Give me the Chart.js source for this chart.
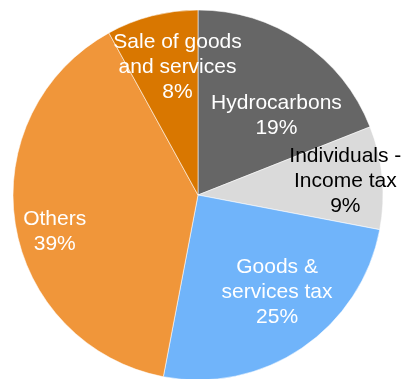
<!DOCTYPE html>
<html>
<head>
<meta charset="utf-8">
<script src="https://cdn.jsdelivr.net/npm/chart.js@4"></script>
<style>
  html, body { margin: 0; padding: 0; background: #ffffff; }
  #wrap { width: 405px; height: 379px; }
</style>
</head>
<body>
<div id="wrap"><canvas id="c" width="405" height="379"></canvas></div>
<script>
// Revenue categories, clockwise from 12 o'clock
const categories = [
  'Hydrocarbons',
  'Individuals - Income tax',
  'Goods & services tax',
  'Others',
  'Sale of goods and services'
];
// Share of total revenue, percent
const shares = [19, 9, 25, 39, 8];
// Label text split into lines (the percentage is appended from shares)
const labelLines = [
  ['Hydrocarbons'],
  ['Individuals -', 'Income tax'],
  ['Goods &', 'services tax'],
  ['Others'],
  ['Sale of goods', 'and services']
];

const sliceColors = ['#666666', '#dadada', '#70b4fa', '#f0963a', '#d97700'];
const labelColors = ['#ffffff', '#000000', '#ffffff', '#ffffff', '#ffffff'];
// Label anchor: angular nudge from the slice midpoint (degrees) and distance as a fraction of the radius
const labelAngleNudge = [10.4, -0.1, -5.0, -5.5, 5.3];
const labelRadiusFrac = [0.604, 0.80, 0.676, 0.80, 0.70];

const sliceLabels = {
  id: 'sliceLabels',
  afterDatasetsDraw(chart) {
    const ctx = chart.ctx;
    const meta = chart.getDatasetMeta(0);
    const values = chart.data.datasets[0].data;
    ctx.save();
    ctx.font = '21px "Liberation Sans", Arial, sans-serif';
    ctx.textAlign = 'center';
    ctx.textBaseline = 'middle';
    const lineH = 25;
    meta.data.forEach((arc, i) => {
      const p = arc.getProps(['x', 'y', 'startAngle', 'endAngle', 'outerRadius'], true);
      const mid = (p.startAngle + p.endAngle) / 2 + labelAngleNudge[i] * Math.PI / 180;
      const r = p.outerRadius * labelRadiusFrac[i];
      const cx = p.x + Math.cos(mid) * r;
      const cy = p.y + Math.sin(mid) * r;
      const lines = labelLines[i].concat([values[i] + '%']);
      ctx.fillStyle = labelColors[i];
      lines.forEach((t, k) => {
        ctx.fillText(t, cx, cy + (k - (lines.length - 1) / 2) * lineH);
      });
    });
    ctx.restore();
  }
};

new Chart(document.getElementById('c'), {
  type: 'pie',
  data: {
    labels: categories,
    datasets: [{
      data: shares,
      backgroundColor: sliceColors,
      borderColor: 'rgba(255,255,255,0.55)',
      borderWidth: 1,
      radius: 185
    }]
  },
  options: {
    responsive: false,
    animation: false,
    layout: { padding: { left: 13, right: 22, top: 11, bottom: -2 } },
    plugins: {
      legend: { display: false },
      tooltip: { enabled: false }
    }
  },
  plugins: [sliceLabels]
});
</script>
</body>
</html>
